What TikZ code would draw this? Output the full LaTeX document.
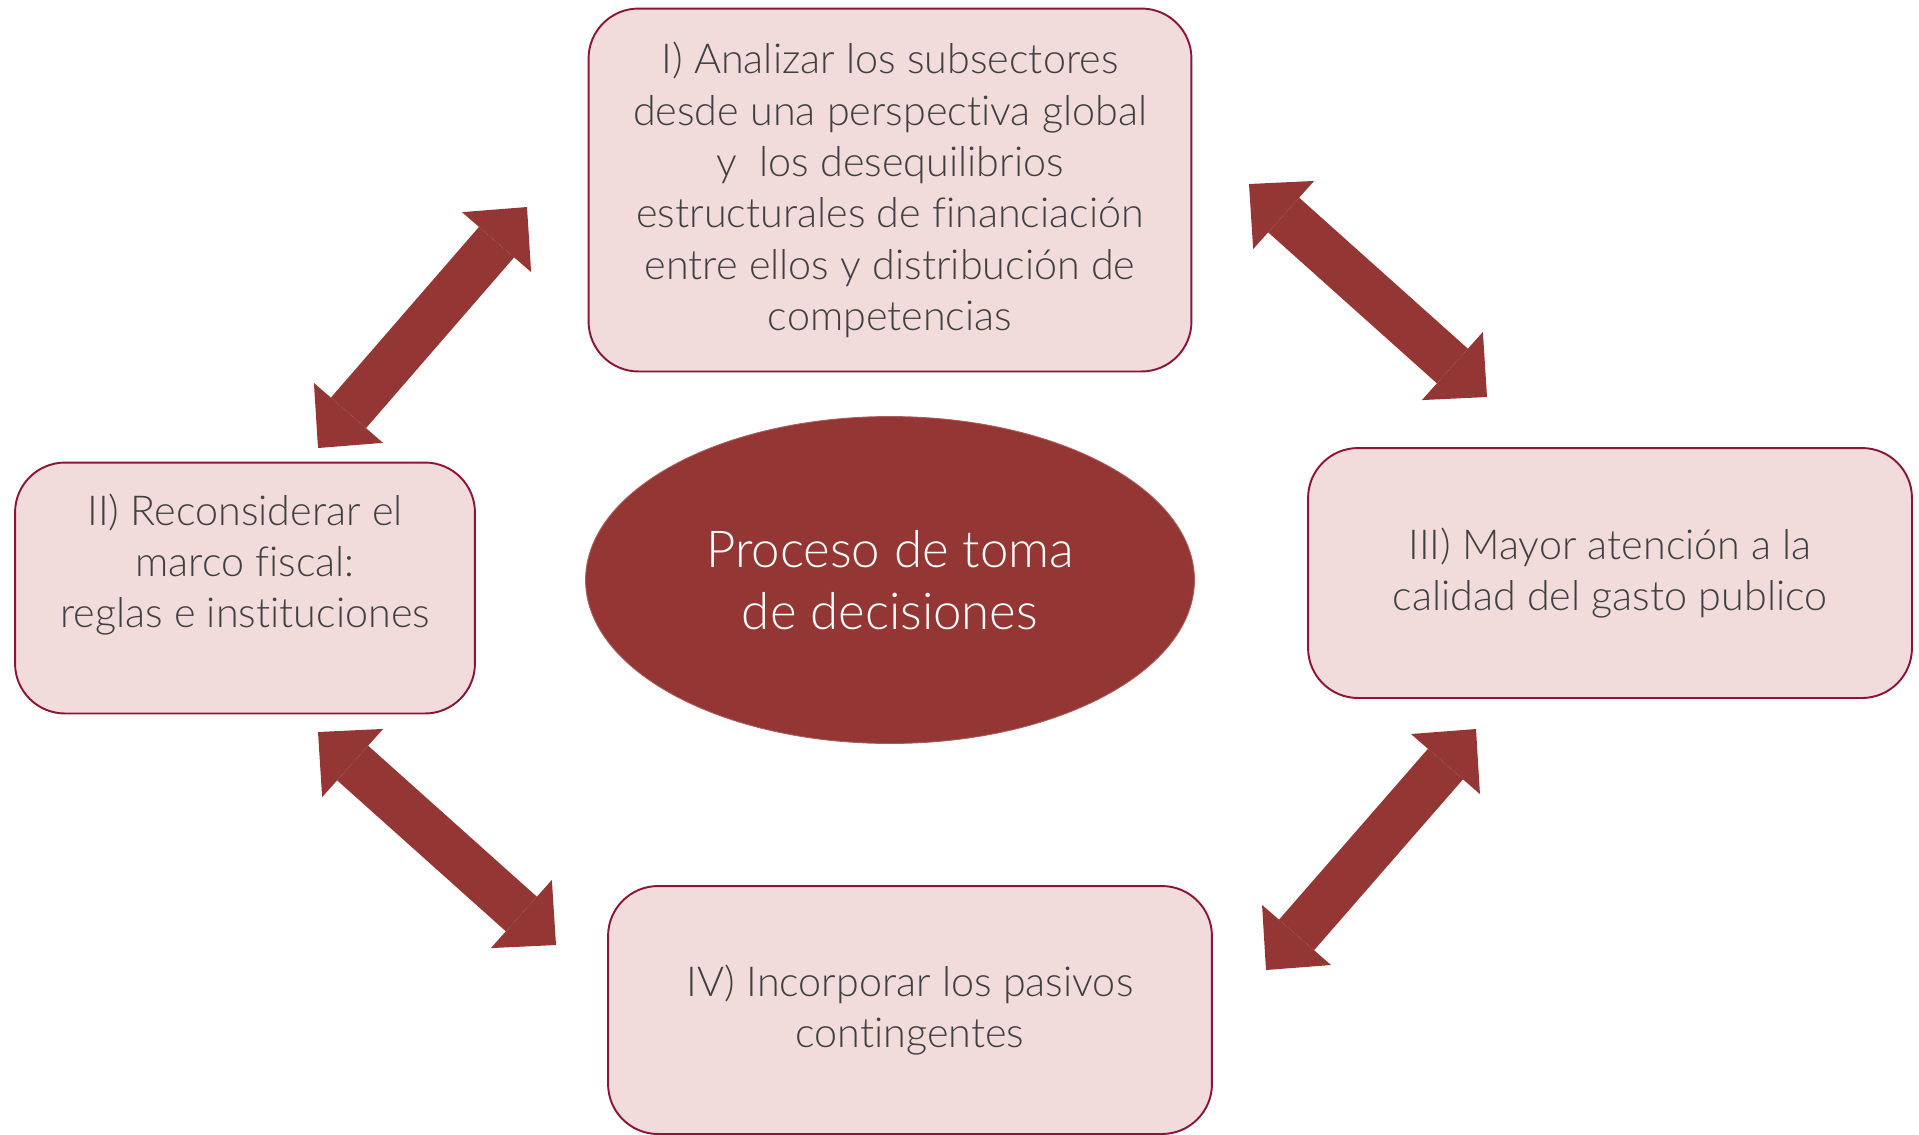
\documentclass[tikz,border=0pt]{standalone}
\usepackage{fontspec}
\setmainfont{Lato Light}[Ligatures=NoCommon]
\usetikzlibrary{arrows.meta,shapes.geometric}

\definecolor{granate}{HTML}{943634}
\definecolor{rosado}{HTML}{F2DCDB}
\definecolor{bordecaja}{HTML}{8B1538}
\definecolor{gristexto}{HTML}{404040}

\begin{document}
\begin{tikzpicture}[x=0.02cm,y=-0.02cm]
  \tikzset{recuadro/.style={draw=bordecaja, line width=1.1pt, fill=rosado,
      rounded corners=1cm, align=center, text=gristexto, inner sep=0pt,
      font=\fontsize{23.5}{29.2}\selectfont}}
  \tikzset{proceso/.style={ellipse, fill=granate, draw=granate!80!white,
      line width=0.5pt, text=white, align=center, inner sep=0pt,
      minimum width=12.18cm, minimum height=6.54cm,
      font=\fontsize{29}{35.2}\selectfont}}
  \tikzset{flechadoble/.style={draw=granate, line width=0.93cm,
      >={Triangle[length=0.93cm, width=1.83cm, line width=0pt]}, <->}}

  \useasboundingbox (0,0) rectangle (1919,1134);

  \node[proceso] (dec) at (890,580) {Proceso de toma\\ de decisiones};

  \node[recuadro, minimum width=12.06cm, minimum height=7.26cm] (i) at (890,190)
    {I) Analizar los subsectores\\ desde una perspectiva global\\ y\ \ los desequilibrios\\
     estructurales de financiación\\ entre ellos y distribución de\\ competencias};
  \node[recuadro, minimum width=9.2cm, minimum height=5.02cm] (ii) at (245,588)
    {II) Reconsiderar el\\ marco fiscal:\\ reglas e instituciones\\[-7pt] \strut};
  \node[recuadro, minimum width=12.08cm, minimum height=5cm] (iii) at (1610,573)
    {III) Mayor atención a la\\ calidad del gasto publico};
  \node[recuadro, minimum width=12.08cm, minimum height=4.96cm] (iv) at (910,1010)
    {IV) Incorporar los pasivos\\ contingentes};

  % puntas de las flechas
  \coordinate (ii-i) at (318,448);   \coordinate (i-ii) at (527,207);
  \coordinate (i-iii) at (1249,184); \coordinate (iii-i) at (1487,397);
  \coordinate (ii-iv) at (318,732);  \coordinate (iv-ii) at (556,945);
  \coordinate (iii-iv) at (1476,729); \coordinate (iv-iii) at (1266,970);

  \draw[flechadoble] (ii-i) -- (i-ii);
  \draw[flechadoble] (i-iii) -- (iii-i);
  \draw[flechadoble] (ii-iv) -- (iv-ii);
  \draw[flechadoble] (iii-iv) -- (iv-iii);
\end{tikzpicture}
\end{document}
